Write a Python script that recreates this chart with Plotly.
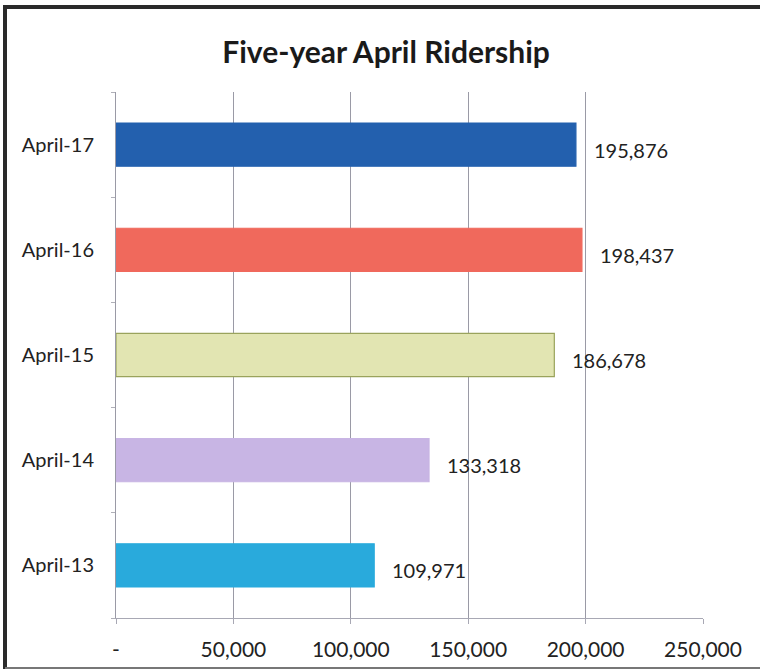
import plotly.graph_objects as go

categories = ["April-17", "April-16", "April-15", "April-14", "April-13"]
ridership = [195876, 198437, 186678, 133318, 109971]
bar_colors = ["#2360AE", "#F0695C", "#E2E5B2", "#C8B5E4", "#29AADC"]
bar_lines = ["#2360AE", "#F0695C", "#9AA35C", "#C8B5E4", "#29AADC"]
x_tickvals = [0, 50000, 100000, 150000, 200000, 250000]
x_ticktext = ["-", "50,000", "100,000", "150,000", "200,000", "250,000"]

FONT = "Lato, Calibri, Carlito, sans-serif"

W, H = 760, 672
L, R, T, B = 116, 57, 92, 54

fig = go.Figure()
fig.add_trace(go.Bar(
    x=ridership, y=categories, orientation="h",
    marker=dict(color=bar_colors, line=dict(color=bar_lines, width=1.2)),
    width=0.41, hoverinfo="x+y",
))

for c, v in zip(categories, ridership):
    fig.add_annotation(x=v, y=c, text=f"{v:,}", showarrow=False,
                       xanchor="left", xshift=16, yshift=-5,
                       font=dict(family=FONT, size=20, color="#222222"))

fig.update_layout(
    width=W, height=H,
    margin=dict(l=L, r=R, t=T, b=B),
    paper_bgcolor="white", plot_bgcolor="white",
    showlegend=False,
    title=dict(text="<b>Five-year April Ridership</b>", x=0.508, xanchor="center",
               y=1 - 52 / H, yanchor="middle",
               font=dict(family=FONT, size=30, color="#1a1a1a")),
    xaxis=dict(range=[0, 250000], tickvals=x_tickvals, ticktext=x_ticktext,
               showgrid=True, gridcolor="#9A9AA6", gridwidth=1,
               showline=True, linecolor="#A8A8B4", linewidth=1,
               ticks="outside", ticklen=5, tickcolor="#A8A8B4",
               ticklabelstandoff=8,
               tickfont=dict(family=FONT, size=21, color="#222222"),
               zeroline=False, fixedrange=True),
    yaxis=dict(categoryorder="array", categoryarray=categories[::-1],
               showline=True, linecolor="#9A9AA6", linewidth=1,
               ticks="outside", ticklen=4, tickcolor="#B0B0B8", tickson="boundaries",
               ticklabelstandoff=17,
               tickfont=dict(family=FONT, size=20, color="#222222"),
               showgrid=False, fixedrange=True),
)

pw, ph = W - L - R, H - T - B
def px(x):
    return (x - L) / pw
def py(y):
    return (H - B - y) / ph

shapes = [
    dict(type="line", xref="paper", yref="paper", x0=px(3), x1=px(762), y0=py(7), y1=py(7),
         line=dict(color="#2a2a2a", width=4)),
    dict(type="line", xref="paper", yref="paper", x0=px(5), x1=px(5), y0=py(5), y1=py(669),
         line=dict(color="#2a2a2a", width=4)),
    dict(type="line", xref="paper", yref="paper", x0=px(5), x1=px(762), y0=py(668), y1=py(668),
         line=dict(color="#777777", width=2)),
]
fig.update_layout(shapes=shapes)

fig.write_html("out.html", config={"displayModeBar": False},
               post_script="document.body.style.margin='0';document.body.style.overflow='hidden';")
